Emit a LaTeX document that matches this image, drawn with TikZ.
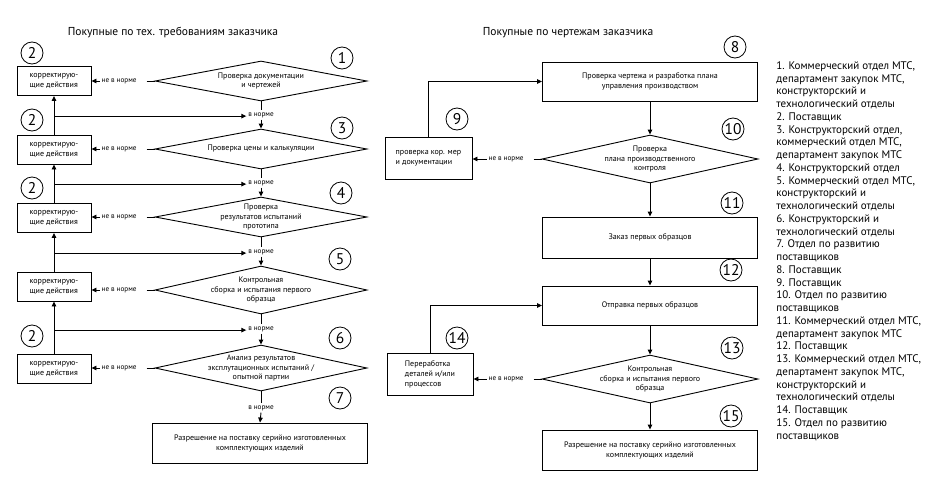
\documentclass[tikz,border=0pt]{standalone}
\usepackage{fontspec}
\setmainfont{PT Sans}
\usetikzlibrary{positioning,shapes.geometric,arrows.meta}

\begin{document}
\begin{tikzpicture}[x=1pt,y=-1pt,line width=0.9pt,
        box/.style={draw,font=\fontsize{8}{10}\selectfont,align=center},
        kbox/.style={box,minimum width=74pt,minimum height=29pt,align=left},
        decision/.style={diamond,draw,inner sep=0pt,minimum width=212pt,minimum height=40pt},
        dtext/.style={font=\fontsize{8}{9.8}\selectfont,align=center},
        lbl/.style={font=\fontsize{7.2}{8}\selectfont,inner sep=1.5pt},
        num/.style={circle,draw,line width=0.8pt,minimum size=22pt,inner sep=0pt,font=\fontsize{15.5}{15.5}\selectfont},
        arr/.style={-{Triangle[length=5pt,width=4.5pt]}}]
        \useasboundingbox (0,0) rectangle (944,482);
        % left chart
        \node[font=\fontsize{11.5}{13}\selectfont] (titleL) at (173,33) {Покупные по тех. требованиям заказчика};
        \node[decision] (d1) at (261,81) {};
        \node[dtext] (t1) at (d1) {Проверка документации\\и чертежей};
        \node[decision] (d2) at (261,149) {};
        \node[dtext] (t2) at (d2) {Проверка цены и калькуляции};
        \node[decision] (d3) at (261,217) {};
        \node[dtext] (t3) at (d3) {Проверка\\результатов испытаний\\прототипа};
        \node[decision,minimum height=48pt] (d4) at (261,290) {};
        \node[dtext] (t4) at (d4) {Контрольная\\сборка и испытания первого\\образца};
        \node[decision,minimum height=46pt] (d5) at (261,368) {};
        \node[dtext] (t5) at (d5) {Анализ результатов\\эксплутационных испытаний /\\опытной партии};
        \node[box,minimum width=215pt,minimum height=40pt] (fin1) at (260,443) {Разрешение на поставку серийно изготовленных\\комплектующих изделий};
        \foreach \n/\y in {1/81,2/149.5,3/218,4/286.5,5/368.5}
            \node[kbox] (k\n) at (54,\y) {корректирую-\\щие действия};
        \foreach \n/\y in {1/115,2/183,3/252,4/329,5/408}
            \node[lbl] (ok\n) at (261,\y) {в норме};
        \foreach \n in {1,...,5}
            {\node[lbl,left=16pt of d\n.west] (no\n) {не в норме};
            \draw[shorten <=8pt] (no\n.east) -- (d\n.west);
            \draw[arr] (no\n.west) -- (no\n.west -| k\n.east);}
        \foreach \a/\b in {1/2,2/3,3/4,4/5}
            {\draw (d\a.south) -- (ok\a.north); \draw[arr] (ok\a.south) -- (d\b.north);}
        \draw (d5.south) -- (ok5.north);
        \draw[arr] (ok5.south) -- (fin1.north);
        \foreach \a/\b in {2/1,3/2,4/3,5/4}
            {\draw[arr] (k\a.north) -- (k\b.south); \draw[arr] (k\a.north |- ok\b.base west) -- (ok\b.base west);}
        \foreach \y in {53,120,188,336}
            \node[num] (two\y) at (32,\y) {2};
        \node[num] (c1) at (342,58) {1};
        \node[num] (c3) at (342,128) {3};
        \node[num] (c4) at (341,193) {4};
        \node[num] (c5) at (340,259) {5};
        \node[num] (c6) at (340,338) {6};
        \node[num] (c7) at (340,398) {7};
        % right chart
        \node[font=\fontsize{11.5}{13}\selectfont] (titleR) at (568,33) {Покупные по чертежам заказчика};
        \node[box,minimum width=215pt,minimum height=39pt] (b8) at (650,81.5) {Проверка чертежа и разработка плана\\управления производством};
        \node[decision,minimum width=216pt,minimum height=48pt] (d10) at (650,159) {};
        \node[dtext] (t10) at (d10) {Проверка\\плана производственного\\контроля};
        \node[box,minimum width=87pt,minimum height=42pt,align=left] (b9) at (428.5,158) {проверка кор. мер\\и документации};
        \node[box,minimum width=215pt,minimum height=41pt] (b11) at (650,237.5) {Заказ первых образцов};
        \node[box,minimum width=215pt,minimum height=39pt] (b12) at (650,305.5) {Отправка первых образцов};
        \node[decision,minimum width=216pt,minimum height=48pt] (d13) at (650,379) {};
        \node[dtext] (t13) at (d13) {Контрольная\\сборка и испытания первого\\образца};
        \node[box,minimum width=86pt,minimum height=42pt,align=left] (b14) at (430,374) {Переработка\\деталей и/или\\процессов};
        \node[box,minimum width=215pt,minimum height=40pt] (fin2) at (650,450) {Разрешение на поставку серийно изготовленных\\комплектующих изделий};
        \node[lbl,left=16pt of d10.west] (no10) {не в норме};
        \node[lbl,left=16pt of d13.west] (no13) {не в норме};
        \draw[shorten <=8pt] (no10.east) -- (d10.west);
        \draw[arr] (no10.west) -- (no10.west -| b9.east);
        \draw[shorten <=8pt] (no13.east) -- (d13.west);
        \draw[arr] (no13.west) -- (no13.west -| b14.east);
        \draw[arr] (b8.south) -- (d10.north);
        \draw[arr] (d10.south) -- (b11.north);
        \draw[arr] (b11.south) -- (b12.north);
        \draw[arr] (b12.south) -- (d13.north);
        \draw[arr] (d13.south) -- (fin2.north);
        \draw[arr] (b9.north) |- (b8.west);
        \draw[arr] (b14.north) |- (b12.west);
        \node[num] (c8) at (735,47) {8};
        \node[num] (c9) at (457,119) {9};
        \node[num] (c10) at (733,129) {10};
        \node[num] (c11) at (732,203) {11};
        \node[num] (c12) at (731,270) {12};
        \node[num] (c13) at (732,348) {13};
        \node[num] (c14) at (457,338) {14};
        \node[num] (c15) at (731,416) {15};
        % legend
        \node[anchor=north west,inner sep=0pt,align=left,font=\fontsize{11}{12.75}\selectfont] (legend) at (776,61) {1. Коммерческий отдел МТС,\\департамент закупок МТС,\\конструкторский и\\технологический отделы\\2. Поставщик\\3. Конструкторский отдел,\\коммерческий отдел МТС,\\департамент закупок МТС\\4. Конструкторский отдел\\5. Коммерческий отдел МТС,\\конструкторский и\\технологический отделы\\6. Конструкторский и\\технологический отделы\\7. Отдел по развитию\\поставщиков\\8. Поставщик\\9. Поставщик\\10. Отдел по развитию\\поставщиков\\11. Коммерческий отдел МТС,\\департамент закупок МТС\\12. Поставщик\\13. Коммерческий отдел МТС,\\департамент закупок МТС,\\конструкторский и\\технологический отделы\\14. Поставщик\\15. Отдел по развитию\\поставщиков};
    \end{tikzpicture}
\end{document}
